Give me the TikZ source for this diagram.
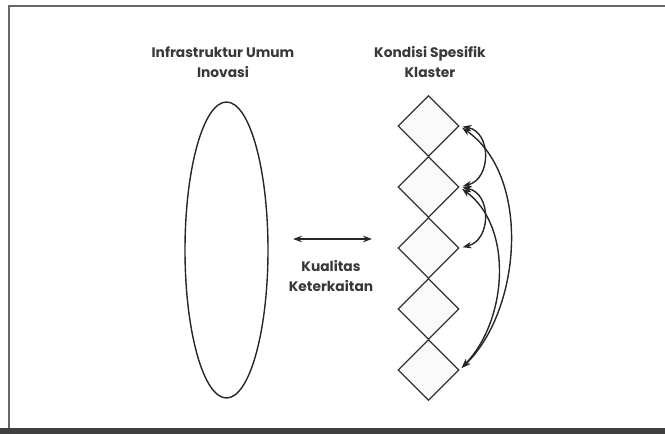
\documentclass[tikz,border=0pt]{standalone}
\usepackage{fontspec}
\setmainfont{Poppins}
\usetikzlibrary{shapes.geometric,arrows.meta}
\begin{document}
\begin{tikzpicture}[x=1pt,y=1pt,
  lbl/.style={font=\bfseries\fontsize{13.8}{19.5}\selectfont, text=black!78, align=center, inner sep=0pt},
  dia/.style={diamond, draw=black!80, line width=1.2pt, fill=black!2, minimum width=61pt, minimum height=61pt, inner sep=0pt, aspect=1},
  dbl/.style={{Stealth[length=9pt,width=6.5pt]}-{Stealth[length=9pt,width=6.5pt]}, line width=1.4pt, black!85},
  frameline/.style={line width=1.3pt, black!60}
]
\useasboundingbox (0,0) rectangle (665,434);
% frame
\draw[frameline] (9,0) -- (9,428) -- (665,428);
\fill[black!75] (0,0) rectangle (665,5.5);
% titles
\node[lbl] (t1) at (223,372) {Infrastruktur Umum\\Inovasi};
\node[lbl] (t2) at (430,372) {Kondisi Spesifik\\Klaster};
% ellipse
\node[ellipse, draw=black!85, line width=1.4pt, minimum width=83pt, minimum height=296pt, inner sep=0pt] (el) at (226.5,184) {};
% diamonds
\node[dia] (d1) at (428.5,308) {};
\node[dia] (d2) at (428.5,247) {};
\node[dia] (d3) at (428.5,186) {};
\node[dia] (d4) at (428.5,125) {};
\node[dia] (d5) at (428.5,64) {};
% middle arrow and label
\coordinate (ha) at (293,195);
\coordinate (hb) at (372,195);
\draw[dbl] (ha) -- (hb);
\node[lbl] (q) at (331,158) {Kualitas\\Keterkaitan};
% cluster arrows
\draw[dbl, shorten <=3pt, shorten >=3pt] (d1.east) .. controls +(32,-6) and +(32,8) .. (d2.east);
\draw[dbl, shorten <=3pt, shorten >=3pt] (d2.east) .. controls +(32,-6) and +(32,8) .. (d3.east);
\draw[dbl, shorten <=3pt, shorten >=3pt] (d1.east) .. controls +(72,-50) and +(62,60) .. (d5.east);
\draw[dbl, shorten <=3pt, shorten >=3pt] (d2.east) .. controls +(54,-40) and +(48,50) .. (d5.east);
\end{tikzpicture}
\end{document}
